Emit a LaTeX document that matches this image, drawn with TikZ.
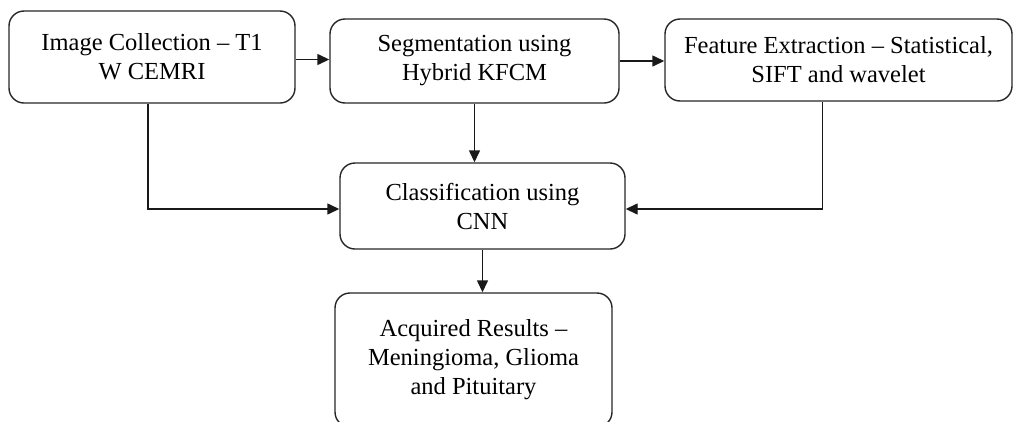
\documentclass[tikz,border=0pt]{standalone}
\usepackage{fontspec}
\setmainfont{Liberation Serif}
\usetikzlibrary{arrows.meta}
\tikzset{
  box/.style={draw=black!85, line width=1.4pt, rounded corners=15pt, align=center,
    inner sep=0pt, font=\fontsize{24.5}{29}\selectfont},
  conn/.style={draw=black!90, line width=1.4pt, -{Triangle[length=12pt,width=11pt]}}
}
\begin{document}
\begin{tikzpicture}[x=1pt,y=-1pt]
\useasboundingbox (0,0) rectangle (1015,421);
\clip (0,0) rectangle (1015,421);
\node[box, minimum width=286pt, minimum height=92pt] (b1) at (152,57) {Image Collection -- T1\\W CEMRI};
\node[box, minimum width=289pt, minimum height=84pt] (b2) at (474.5,61) {Segmentation using\\Hybrid KFCM};
\node[box, minimum width=347pt, minimum height=82pt] (b3) at (838.5,60) {Feature Extraction -- Statistical,\\SIFT and wavelet};
\node[box, minimum width=285pt, minimum height=86pt] (b4) at (482.5,206) {Classification using\\CNN};
\node[box, minimum width=277pt, minimum height=134pt] (b5) at (473.5,360) {Acquired Results --\\Meningioma, Glioma\\and Pituitary};
\draw[conn] ([yshift=1.5pt]b1.east |- b2.west) -- ([yshift=1.5pt]b2.west);
\draw[conn] (b2.east) -- (b3.west |- b2.east);
\draw[conn] ([xshift=-4pt]b1.south) |- ([yshift=-3pt]b4.west);
\draw[conn] (b2.south) -- (b2.south |- b4.north);
\draw[conn] ([xshift=-16pt]b3.south) |- ([yshift=-3pt]b4.east);
\draw[conn] (b4.south) -- (b4.south |- b5.north);
\end{tikzpicture}
\end{document}
